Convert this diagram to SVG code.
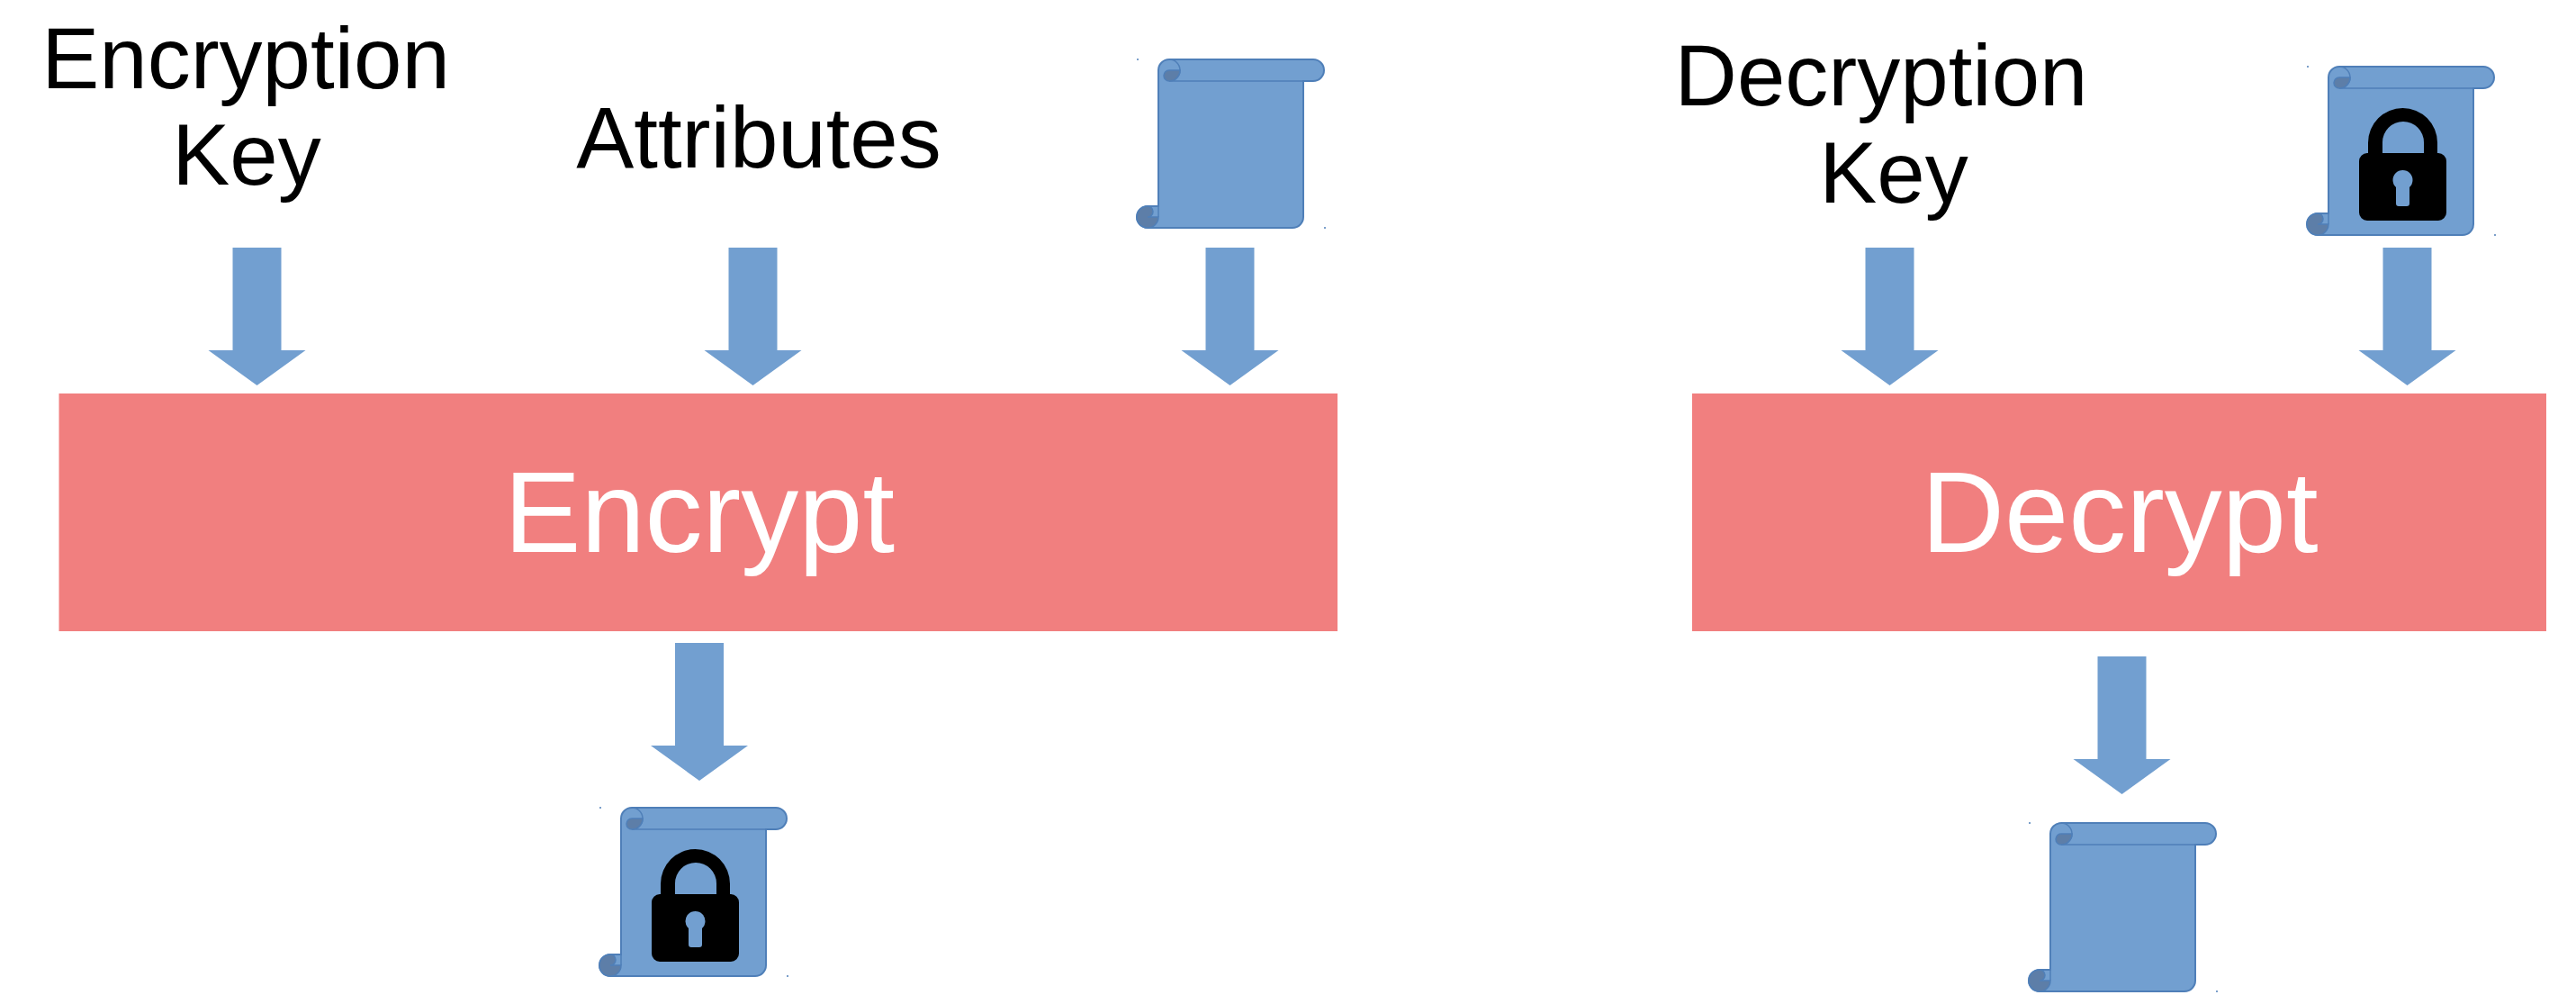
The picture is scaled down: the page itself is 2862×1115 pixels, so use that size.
<svg xmlns="http://www.w3.org/2000/svg" width="2862" height="1115" viewBox="0 0 2862 1115">
<style>
text{font-family:"Liberation Sans",Arial,sans-serif;text-anchor:middle}
.lbl{font-size:96px;fill:#000}
.big{font-size:128px;fill:#fff}
.box{fill:#f17f7f}
.arrow{fill:#729fd0}
.sc{fill:#729fd0;stroke:#4f7fb8;stroke-width:2}
.cv{fill:#5d7ea8;stroke:#4f7fb8;stroke-width:1.500}
.ln{fill:none;stroke:#4f7fb8;stroke-width:1.500}
.dot{fill:#4f7fb8}
.lock{fill:#000}
</style>
<defs>
<path id="ar" class="arrow" d="M-27 0H27V114H54L0 153-54 114H-27Z"/>
<g id="scroll">
<circle class="dot" cx="-23" cy="0" r="1"/>
<circle class="dot" cx="185" cy="187" r="1"/>
<path class="sc" d="M0 12A12 12 0 0 1 12 0H172A12 12 0 0 1 172 24H161V175A12 12 0 0 1 149 187H-12A12 12 0 0 1 -12 163H0Z"/>
<path class="ln" d="M12 0A12 12 0 0 1 12 24H172"/>
<path class="cv" d="M12 12H24A12 12 0 0 1 12 24A6 6 0 0 1 12 12Z"/>
<path class="cv" d="M-12 163A12 12 0 1 0 0 175H-12A6 6 0 0 0 -12 163Z"/>
<path class="ln" d="M0 163V175"/>
</g>
<g id="padlock">
<path class="lock" d="M44 97V84.500A38.500 38.500 0 0 1 121 84.500V97H106V84A23 23 0 0 0 60 84V97Z"/>
<path class="lock" fill-rule="evenodd" d="M43 96H122A9 9 0 0 1 131 105V162A9 9 0 0 1 122 171H43A9 9 0 0 1 34 162V105A9 9 0 0 1 43 96ZM75 134V152A3 3 0 0 0 78 155H87A3 3 0 0 0 90 152V134A11 11 0 1 0 75 134Z"/>
</g>
</defs>
<g id="connectors">
<use href="#ar" x="285.500" y="275"/>
<use href="#ar" x="836.500" y="275"/>
<use href="#ar" x="1366.500" y="275"/>
<use href="#ar" x="2099.500" y="275"/>
<use href="#ar" x="2674.500" y="275"/>
<use href="#ar" x="777" y="714"/>
<use href="#ar" x="2357.500" y="729"/>
</g>
<g id="encrypt"><rect class="box" x="65.500" y="437" width="1420.500" height="264"/><text class="big" x="777" y="613">Encrypt</text></g>
<g id="decrypt"><rect class="box" x="1880" y="437" width="949" height="264"/><text class="big" x="2355" y="613">Decrypt</text></g>
<g id="encryption-key"><text class="lbl" x="273" y="98">Encryption</text><text class="lbl" x="274" y="205">Key</text></g>
<g id="attributes"><text class="lbl" x="843" y="185.500">Attributes</text></g>
<g id="decryption-key"><text class="lbl" x="2090" y="117">Decryption</text><text class="lbl" x="2104" y="225">Key</text></g>
<g id="plaintext-in"><use href="#scroll" x="1287" y="66"/></g>
<g id="ciphertext-in"><use href="#scroll" x="2587" y="74"/><use href="#padlock" x="2587" y="74"/></g>
<g id="ciphertext-out"><use href="#scroll" x="690" y="897"/><use href="#padlock" x="690" y="897"/></g>
<g id="plaintext-out"><use href="#scroll" x="2278" y="914"/></g>
</svg>
